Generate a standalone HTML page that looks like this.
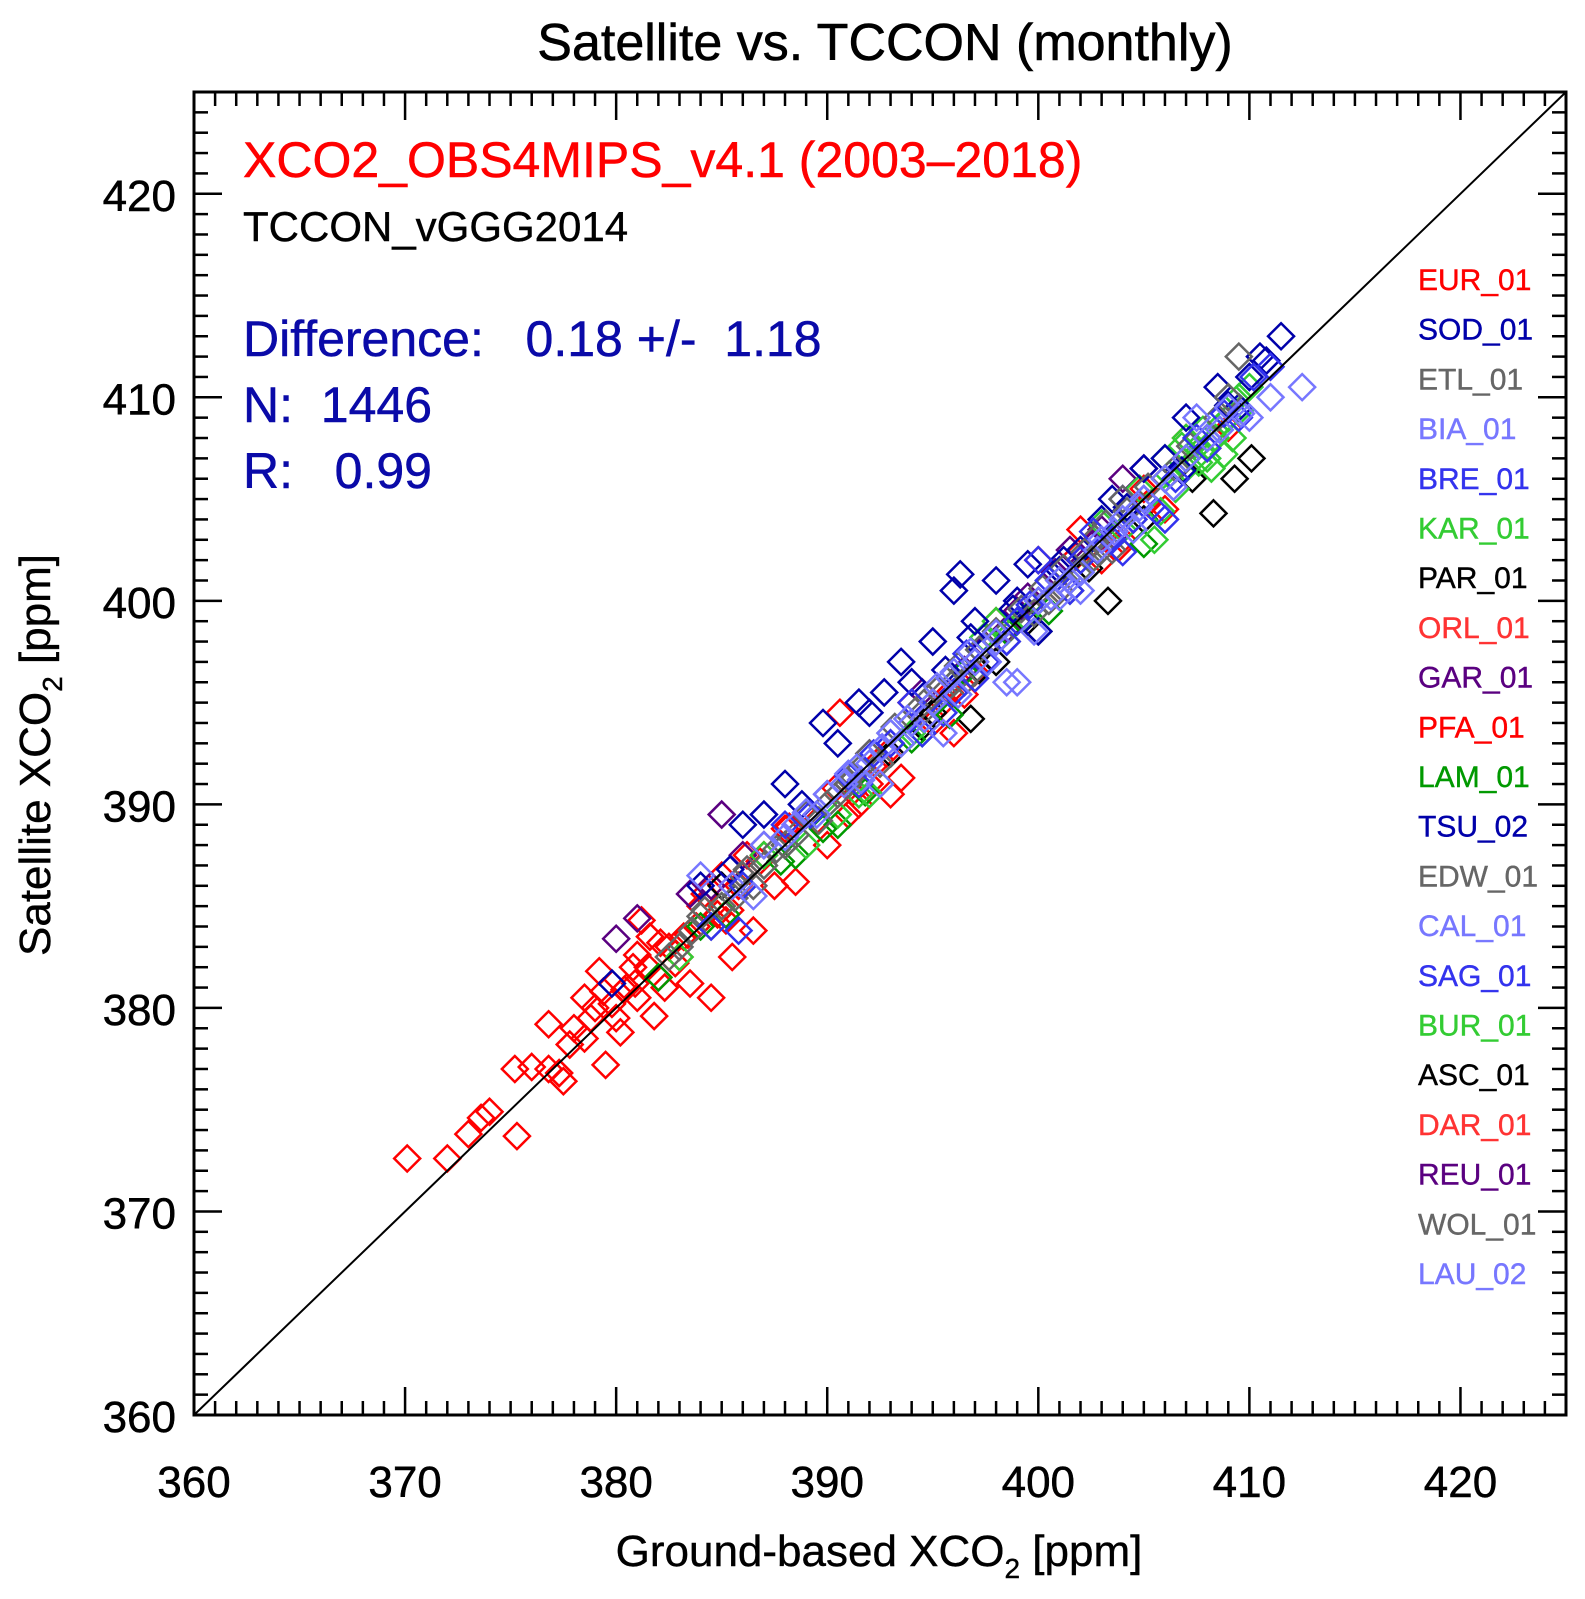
<!DOCTYPE html>
<html><head><meta charset="utf-8"><style>
html,body{margin:0;padding:0;background:#fff;}
svg{display:block;font-family:"Liberation Sans",Arial,sans-serif;}
</style></head><body>
<svg id="chart" width="1585" height="1599" viewBox="0 0 1585 1599" xmlns="http://www.w3.org/2000/svg">
<rect width="1585" height="1599" fill="#fff"/>
<text x="885" y="60" font-size="52" text-anchor="middle" stroke="#000" stroke-width="0.6">Satellite vs. TCCON (monthly)</text>
<g id="marks"></g>
<g id="axes"></g>
<text x="243" y="177" font-size="50" fill="#ff0000" stroke="#ff0000" stroke-width="0.5">XCO2_OBS4MIPS_v4.1 (2003–2018)</text>
<text x="243" y="241" font-size="42" fill="#000" stroke="#000" stroke-width="0.4">TCCON_vGGG2014</text>
<text x="243" y="356" font-size="50" fill="#0a0aa8" stroke="#0a0aa8" stroke-width="0.5" xml:space="preserve">Difference:   0.18 +/-  1.18</text>
<text x="243" y="422" font-size="50" fill="#0a0aa8" stroke="#0a0aa8" stroke-width="0.5" xml:space="preserve">N:  1446</text>
<text x="243" y="488" font-size="50" fill="#0a0aa8" stroke="#0a0aa8" stroke-width="0.5" xml:space="preserve">R:   0.99</text>
<g id="legend"></g>
<text x="879" y="1566" font-size="44" text-anchor="middle" stroke="#000" stroke-width="0.4">Ground-based XCO<tspan font-size="28" dy="12">2</tspan><tspan dy="-12"> [ppm]</tspan></text>
<text transform="translate(50,755) rotate(-90)" font-size="44" text-anchor="middle" stroke="#000" stroke-width="0.4">Satellite XCO<tspan font-size="28" dy="12">2</tspan><tspan dy="-12"> [ppm]</tspan></text>
</svg>
<script>
const xTicks=[360,370,380,390,400,410,420];
const yTicks=[360,370,380,390,400,410,420];
const legendNames=["EUR_01","SOD_01","ETL_01","BIA_01","BRE_01","KAR_01","PAR_01","ORL_01","GAR_01","PFA_01","LAM_01","TSU_02","EDW_01","CAL_01","SAG_01","BUR_01","ASC_01","DAR_01","REU_01","WOL_01","LAU_02"];
const legendColors=["#ff0000","#0000aa","#666666","#7777ff","#3333ee","#33cc33","#000000","#ff3333","#5a0080","#ff0000","#009900","#0000aa","#666666","#7777ff","#3333ee","#33cc33","#000000","#ff3333","#5a0080","#666666","#7777ff"];

// series: ground-based x, satellite y
const redX=[370.1,372,373,373.6,374,375.3,375.2,376,376.8,377.3,377.5,376.8,378,378.5,379,379.5,380,380.5,381,381.5,382,381.2,382.5,383,383.5,384.5,384,385,385.5,386.5,387.5,388.5,390,391,392,393,393.5,390.6,395,396,398,400,402,404,406,408,409,378.5,379.2,380.2,381.8,383.2,386,388,389,391.5,394,397,399,401,403,405,407,377.8,379.8,380.8,382.3,384.8,385.8,387,392.5,395.5,381,382.8,383.8,385.2,386.2,378.8,380.4,381.6,379.4,380.9,382.1,383.4,384.2,385.4,386.8,388.2,389.5,390.4,391.2,392.8,394.6,395.8,396.5,401.8,402.8,403.8,405.2];
const redY=[372.6,372.6,373.8,374.6,374.9,373.7,377,377.1,377,376.8,376.4,379.2,379,378.5,380,377.2,379.5,381,380.5,382,381.5,384.3,383,382.5,381.2,380.5,385,386.5,382.5,383.8,386,386.2,388,389.5,391,390.5,391.3,394.5,394,393.5,399,402,403.5,403,404.5,407.5,408.5,380.5,381.8,378.8,379.6,383.5,386.5,388.8,389.5,390,395,396.5,399.5,400.5,402,405.5,408,378.2,380.2,382,381,384.6,386,387.5,392.2,395,382.6,382.2,384,384.3,387.5,379.5,380.9,383.5,380.8,381.2,383.2,383.6,385.6,384.8,387.2,388.9,389.2,390.8,390.6,392.5,394.2,395.5,395.4,402.2,403.2,402.6,404.8];
const dblueX=[379.8,386,388,389.8,390.5,391.5,392,393.5,395,396,396.3,398,399,401,403,405,407,408.5,410,411.5,400,402,404,406,408,409.5,410.5,394,397,384,387,410.8,403.5,399.5,392.7,388.8,396.8,398.8,401.2,404.2,406.8,409,395.6,385.4];
const dblueY=[381.2,389,391,394,393,395,394.5,397,398,400.5,401.3,401,400,401.5,404,406.5,409,410.5,411,413,398.5,402.5,405,407,408,409.5,412,396,399,386,389.5,411.8,405,401.8,395.5,390,398.2,399.6,402,404.6,406.4,409.6,396.6,386.8];
const grayX=[383,384,385,386,387,388,389,390,391,392,393,394,395,396,397,398,399,400,401,402,403,404,405,406,407,408,409,409.5,382.5,384.5,386.5,388.5,390.5,392.5,394.5,396.5,398.5,400.5,402.5,404.5,406.5,408.5,393.5,395.5,397.5,401.5,403.5,383.6,385.6,387.6,389.6,391.6,393.2,394.2,395.2,396.2,397.2,398.2,399.2,400.2,401.2,402.2,403.2,404.2,405.2,407.2,384.2,386.2,391.2,394.8,396.8,399.8,402.8];
const grayY=[383,384.5,385,386.5,387,388,389.5,390,391,392.5,393.5,394,395,396,397,398.5,399,400,400.5,401.5,402.5,405,405,406,407,408,410,412,382.5,384,386,388.5,390.5,392,394.5,396,398,400,402,404,406.5,409,393,395.5,397,401,402.5,383.8,385.4,387.8,389.2,391.8,393.8,394.6,395.6,396.8,397.6,398.2,399.6,400.6,401.6,402.4,403.8,404.4,405.6,407.6,384.8,386.8,391.4,395.2,396.4,399.4,403.2];
const lblueX=[384,385.5,387,388.5,390,391,392,393,394,395,396,397,398,399,400,401,402,403,404,405,406,407,408,409,410,411,412.5,398.5,395.5,392.5,389.5,386.5,401.5,404.5,407.5,399.8,402.8,396.8,393.5,390.8,388,389,391.6,392.6,394.6,395.8,396.2,397.6,398,400.6,401,402,403.6,404.8,406.4,408.6,409.6,391.4,393.8,395.2];
const lblueY=[386.5,386,388,389,390.5,391.5,392,393.5,394,395,396.5,397,398,396,400,401,400.5,403,404,405,406,407,408,409.5,409,410,410.5,396,393.5,391,389.5,385.5,401,403.5,409,398.5,402.5,397.5,393,391,388.4,389.6,391.2,392.8,394.2,396.2,395.4,397,398.4,400.2,400.2,401.4,403.4,404.6,405.6,408.4,409.2,391.8,394.2,395.8];
const blueX=[384.5,386,388,390,391.5,393,394.5,396,397.5,399,400.5,402,403.5,405,406.5,408,409.5,411,395.5,398.5,401.5,404.5,407.5,410.2,389.2,392.2,385.8,397,400,406,394,396.6,399.6,402.6,405.6,408.8,404,391];
const blueY=[384,386,389,390.5,391,393,393.5,395.5,397,399,401,402,403,405,406,407.5,409,411.5,394.5,398,400.5,404,408,411,389.5,392.5,383.8,396.2,402,404,395,397.4,399.8,403.4,404.4,409.2,402.4,391.4];
const greenX=[383,385,387,389,390.5,392,394,396,398,400,402,404,405.5,406.5,407,407.5,408,408.5,409,409.5,410,406,407,408.2,409.2,404.8,403,391.5,406.2,406.8,407.6,408.4,409.6,405.8,407.8,408.8,397.4,399.4];
const greenY=[382.5,385,387.5,388,389.5,390.5,393.5,396,399,400,401.5,403.5,403,405.5,406.5,407.5,407,408.5,409,410,410.5,407,408,406.5,408,405.5,403.8,390.5,406.2,407.6,406.8,408,409.4,404.4,408.4,407.2,398.2,399.2];
const dgreenX=[382,384,386,388.5,390.5,392.5,394.5,396.5,398.5,400.5,402.5,405,407,409,389.8,394,385.2,387.8,391.8,395.8];
const dgreenY=[381.5,384,386,387.5,389,391,393.5,396.5,398.5,399.5,402,402.8,407,409,388.8,393.2,384.6,387.2,390.6,394.4];
const blackX=[385,388,391,393,395,396.8,398,400,401.5,403.3,405,407.3,408.3,409.3,410.1,394.5,399.5,397.2,402.4];
const blackY=[386,388,391,392.5,394.5,394.2,397,398.5,400.5,400,404,406,404.3,406,407,393.8,399,396.6,401.6];
const purpX=[380,381,383.5,384.5,385,386,387,389,391,393,395,396,397,398,399,400,401,402,403,404,405,390,392,394.5,399.5,401.5,396.5,397.5,398.5,399,400.8,402.6,403.6];
const purpY=[383.4,384.4,385.6,386,389.5,387.5,388,389.5,391,393,395,396,397,398,399.5,400,401,402,403.5,406,406.5,390.5,392.5,395.5,400.2,402.5,396.6,397.8,398.6,399,401.4,402.8,403.2];

const series=[
 {n:"red",c:"#ff0000",x:redX,y:redY},
 {n:"purple",c:"#5a0080",x:purpX,y:purpY},
 {n:"black",c:"#000000",x:blackX,y:blackY},
 {n:"dark-green",c:"#009900",x:dgreenX,y:dgreenY},
 {n:"green",c:"#33cc33",x:greenX,y:greenY},
 {n:"dark-blue",c:"#0000aa",x:dblueX,y:dblueY},
 {n:"gray",c:"#666666",x:grayX,y:grayY},
 {n:"blue",c:"#3333ee",x:blueX,y:blueY},
 {n:"light-blue",c:"#7777ff",x:lblueX,y:lblueY}
];

const L=194,R=1566,T=92,B=1415,X0=360,X1=425,Y0=360,Y1=425;
const sx=v=>L+(v-X0)*(R-L)/(X1-X0);
const sy=v=>B-(v-Y0)*(B-T)/(Y1-Y0);
const NS="http://www.w3.org/2000/svg";
function mk(tag,attrs,parent){const e=document.createElementNS(NS,tag);for(const k in attrs)e.setAttribute(k,attrs[k]);parent.appendChild(e);return e;}

const marks=document.getElementById('marks');
series.forEach(s=>{
  const g=mk('g',{},marks);
  
  
  s.x.forEach((xv,i)=>{
    const cx=sx(xv),cy=sy(s.y[i]),r=13;
    const p=mk('polygon',{points:`${cx},${cy-r} ${cx+r},${cy} ${cx},${cy+r} ${cx-r},${cy}`,fill:'none',stroke:s.c,'stroke-width':2.5},g);
    
    
  });
});

const axes=document.getElementById('axes');
const oneLine=mk('line',{x1:sx(360),y1:sy(360),x2:sx(425),y2:sy(425),stroke:'#000','stroke-width':2},axes);


const frame=mk('rect',{x:L,y:T,width:R-L,height:B-T,fill:'none',stroke:'#000','stroke-width':3},axes);


for(let v=361;v<425;v++){
  const len=(v%10===0)?28:14;
  const x=sx(v);
  mk('line',{x1:x,y1:B,x2:x,y2:B-len,stroke:'#000','stroke-width':2.5},axes);
  mk('line',{x1:x,y1:T,x2:x,y2:T+len,stroke:'#000','stroke-width':2.5},axes);
  const y=sy(v);
  mk('line',{x1:L,y1:y,x2:L+len,y2:y,stroke:'#000','stroke-width':2.5},axes);
  mk('line',{x1:R,y1:y,x2:R-len,y2:y,stroke:'#000','stroke-width':2.5},axes);
}
xTicks.forEach(v=>{
  const t=mk('text',{x:sx(v),y:1497,'font-size':44,'text-anchor':'middle',stroke:'#000','stroke-width':0.5},axes);
  t.textContent=v;
  
  
});
yTicks.forEach(v=>{
  const t=mk('text',{x:176,y:sy(v)+17,'font-size':44,'text-anchor':'end',stroke:'#000','stroke-width':0.5},axes);
  t.textContent=v;
  
  
});
const legend=document.getElementById('legend');
legendNames.forEach((n,i)=>{
  const t=mk('text',{x:1418,y:290+i*49.7,'font-size':30,fill:legendColors[i],stroke:legendColors[i],'stroke-width':0.4},legend);
  t.textContent=n;
  
  
});
</script>
</body></html>
